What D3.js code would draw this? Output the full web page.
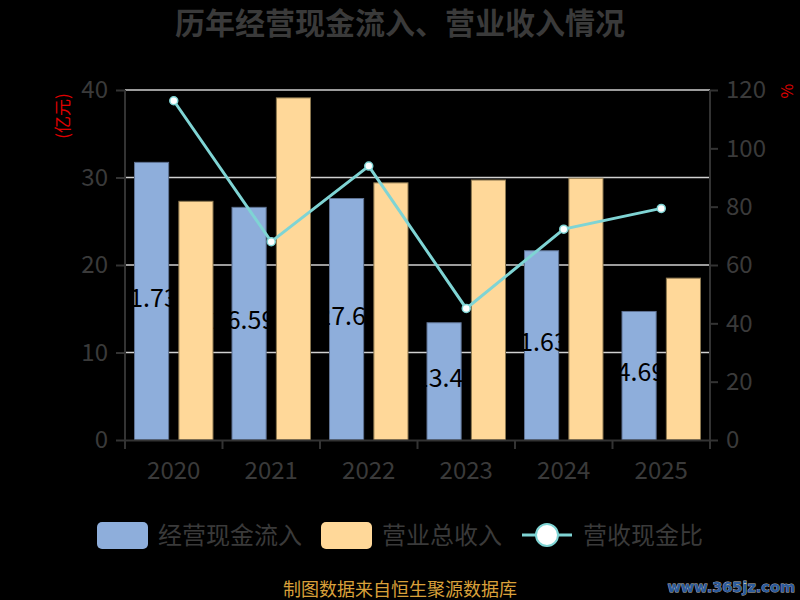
<!DOCTYPE html>
<html>
<head>
<meta charset="utf-8">
<script src="https://cdn.jsdelivr.net/npm/d3@7"></script>
<style>
  body { margin: 0; background: #000; }
  svg { display: block; }
</style>
</head>
<body>
<div id="chart-area"></div>
<script>
var years = ['2020', '2021', '2022', '2023', '2024', '2025'];
var cashIn = [31.73, 26.59, 27.6, 13.4, 21.63, 14.69];
var revenue = [27.28, 39.10, 29.39, 29.71, 29.92, 18.50];
var ratio = [116.31, 68.01, 93.91, 45.10, 72.29, 79.41];
var leftTicks = [0, 10, 20, 30, 40];
var rightTicks = [0, 20, 40, 60, 80, 100, 120];

var width = 800, height = 600;
var margin = {left: 125, right: 90, top: 90, bottom: 160};
var font = '"Noto Sans CJK SC", "Noto Sans", sans-serif';
var txt = '#3a3a3a';

var svg = d3.select('#chart-area')
    .append('svg')
        .attr('width', width)
        .attr('height', height)
        .style('background', '#000')
        .style('font-family', font);

var x = d3.scaleBand()
    .domain(years)
    .range([margin.left, width - margin.right]);

var yL = d3.scaleLinear()
    .domain([0, 40])
    .range([height - margin.bottom, margin.top]);

var yR = d3.scaleLinear()
    .domain([0, 120])
    .range([height - margin.bottom, margin.top]);

var barW = x.bandwidth() * 0.35;
var gap = barW * 0.3;
var cx = (d) => x(d) + x.bandwidth() / 2;

// title
svg.append('text')
    .attr('x', 400)
    .attr('y', 34)
    .attr('text-anchor', 'middle')
    .attr('font-size', '30px')
    .attr('font-weight', 'bold')
    .attr('fill', txt)
    .text('历年经营现金流入、营业收入情况');

// grid lines
svg.append('g')
    .selectAll('line')
    .data(leftTicks.slice(1))
    .enter()
    .append('line')
    .attr('x1', margin.left)
    .attr('x2', width - margin.right)
    .attr('y1', (d) => yL(d))
    .attr('y2', (d) => yL(d))
    .attr('stroke', '#d0d0d0')
    .attr('stroke-width', 1.5);

// bars
svg.append('g')
    .selectAll('rect')
    .data(years)
    .enter()
    .append('rect')
    .attr('x', (d) => cx(d) - gap / 2 - barW)
    .attr('y', (d, i) => yL(cashIn[i]))
    .attr('width', barW)
    .attr('height', (d, i) => yL(0) - yL(cashIn[i]))
    .attr('fill', '#8eaedb')
    .attr('stroke', '#5f7394')
    .attr('stroke-width', 1);

svg.append('g')
    .selectAll('rect')
    .data(years)
    .enter()
    .append('rect')
    .attr('x', (d) => cx(d) + gap / 2)
    .attr('y', (d, i) => yL(revenue[i]))
    .attr('width', barW)
    .attr('height', (d, i) => yL(0) - yL(revenue[i]))
    .attr('fill', '#ffd899')
    .attr('stroke', '#8c7850')
    .attr('stroke-width', 1);

// bar labels (black text, only visible over the bar)
svg.append('g')
    .selectAll('text')
    .data(years)
    .enter()
    .append('text')
    .attr('x', (d) => cx(d) - gap / 2 - barW / 2 - 5)
    .attr('y', (d, i) => (yL(cashIn[i]) + yL(0)) / 2)
    .attr('dy', '0.22em')
    .attr('text-anchor', 'middle')
    .attr('font-size', '25px')
    .attr('fill', '#000')
    .text((d, i) => cashIn[i]);

// axes
var leftAxis = d3.axisLeft(yL).tickValues(leftTicks).tickSize(9).tickPadding(8);
var gl = svg.append('g')
    .attr('transform', 'translate(' + margin.left + ',0)')
    .call(leftAxis);

var rightAxis = d3.axisRight(yR).tickValues(rightTicks).tickSize(8).tickPadding(8);
var gr = svg.append('g')
    .attr('transform', 'translate(' + (width - margin.right) + ',0)')
    .call(rightAxis);

var bottomAxis = d3.axisBottom(x).tickSize(0).tickPadding(22);
var gb = svg.append('g')
    .attr('transform', 'translate(0,' + yL(0) + ')')
    .call(bottomAxis);

gb.selectAll('.tick-edge')
    .data(years.concat(['end']))
    .enter()
    .append('line')
    .attr('x1', (d) => d === 'end' ? width - margin.right : x(d))
    .attr('x2', (d) => d === 'end' ? width - margin.right : x(d))
    .attr('y1', 0)
    .attr('y2', 9)
    .attr('stroke', '#333')
    .attr('stroke-width', 2);

[gl, gr, gb].forEach((g) => {
    g.select('.domain').attr('stroke', '#333').attr('stroke-width', 2);
    g.selectAll('.tick line').attr('stroke', '#333').attr('stroke-width', 2);
    g.selectAll('text')
        .attr('fill', txt)
        .attr('font-size', '24px')
        .attr('font-family', font);
});
gl.select('.domain').attr('d', 'M0,' + yL(0) + 'V' + yL(40));
gr.select('.domain').attr('d', 'M0,' + yR(0) + 'V' + yR(120));

// axis names
svg.append('text')
    .attr('transform', 'translate(63,116) rotate(-90)')
    .attr('text-anchor', 'middle')
    .attr('dy', '0.35em')
    .attr('font-size', '17px')
    .attr('fill', '#e00000')
    .text('(亿元)');

svg.append('text')
    .attr('transform', 'translate(787,91) rotate(-90)')
    .attr('text-anchor', 'middle')
    .attr('dy', '0.35em')
    .attr('font-size', '16px')
    .attr('fill', '#e00000')
    .text('%');

// ratio line
var line = d3.line()
    .x((d, i) => cx(years[i]))
    .y((d) => yR(d));

svg.append('path')
    .datum(ratio)
    .attr('d', line)
    .attr('fill', 'none')
    .attr('stroke', '#7fd4d4')
    .attr('stroke-width', 3);

svg.append('g')
    .selectAll('circle')
    .data(ratio)
    .enter()
    .append('circle')
    .attr('cx', (d, i) => cx(years[i]))
    .attr('cy', (d) => yR(d))
    .attr('r', 4)
    .attr('fill', '#fff')
    .attr('stroke', '#7fd4d4')
    .attr('stroke-width', 1.5);

// legend
var lg = svg.append('g').attr('font-size', '24px').attr('fill', txt);
lg.append('rect').attr('x', 97).attr('y', 522).attr('width', 51).attr('height', 27).attr('rx', 5).attr('fill', '#8eaedb');
lg.append('text').attr('x', 158).attr('y', 536).attr('dy', '0.35em').text('经营现金流入');
lg.append('rect').attr('x', 321).attr('y', 522).attr('width', 51).attr('height', 27).attr('rx', 5).attr('fill', '#ffd899');
lg.append('text').attr('x', 382).attr('y', 536).attr('dy', '0.35em').text('营业总收入');
lg.append('line').attr('x1', 522).attr('x2', 572).attr('y1', 535).attr('y2', 535).attr('stroke', '#7fd4d4').attr('stroke-width', 3);
lg.append('circle').attr('cx', 547).attr('cy', 535).attr('r', 11).attr('fill', '#fff').attr('stroke', '#7fd4d4').attr('stroke-width', 2);
lg.append('text').attr('x', 583).attr('y', 536).attr('dy', '0.35em').text('营收现金比');

// footer
svg.append('text')
    .attr('x', 400)
    .attr('y', 596)
    .attr('text-anchor', 'middle')
    .attr('font-size', '18px')
    .attr('fill', '#d9a03a')
    .text('制图数据来自恒生聚源数据库');

svg.append('text')
    .attr('x', 795)
    .attr('y', 592)
    .attr('text-anchor', 'end')
    .attr('font-family', '"DejaVu Sans", sans-serif')
    .attr('font-size', '14.5px')
    .attr('font-weight', 'bold')
    .attr('fill', '#2a5a9c')
    .attr('stroke', '#bbb')
    .attr('stroke-width', 0.8)
    .attr('paint-order', 'stroke')
    .text('www.365jz.com');
</script>
</body>
</html>
